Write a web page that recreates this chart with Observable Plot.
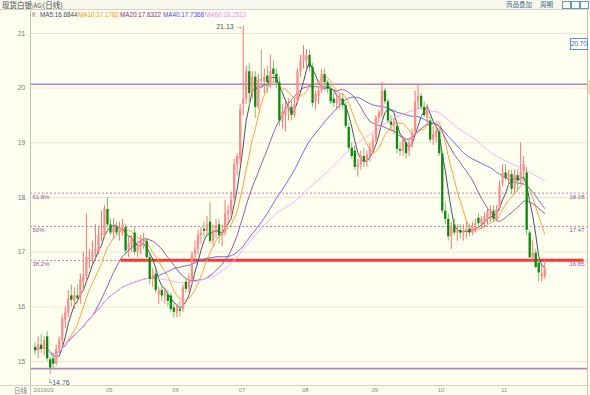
<!DOCTYPE html>
<html><head><meta charset="utf-8">
<script src="https://cdn.jsdelivr.net/npm/d3@7"></script>
<script src="https://cdn.jsdelivr.net/npm/@observablehq/plot@0.6"></script>
<style>
html,body{margin:0;padding:0;background:#fffff0;}
#wrap{position:relative;width:590px;height:395px;overflow:hidden;background:#fffff0;font-family:"Liberation Sans",Arial,sans-serif;}
#chart{position:absolute;left:0;top:0;}
#hdr{position:absolute;left:0;top:0;width:590px;height:9px;background:#f7f7ee;border-bottom:1px solid #d6d6c6;}
#title{position:absolute;left:2px;top:0px;font-family:"Noto Sans CJK SC",sans-serif;font-size:7.5px;line-height:9px;color:#4a4a4a;white-space:nowrap;}
.tool{position:absolute;top:0px;font-family:"Noto Sans CJK SC",sans-serif;font-size:6.5px;line-height:9px;color:#3d6f92;white-space:nowrap;}
.btn{position:absolute;top:1px;width:7px;height:6px;border:1px solid #6a98b8;background:#fbfbf5;}
.leg{position:absolute;top:10px;font-size:6.3px;line-height:9px;white-space:nowrap;}
#vleft{position:absolute;left:30px;top:10px;width:1px;height:385px;background:#c4c4b4;}
#vright{position:absolute;left:587px;top:10px;width:1px;height:385px;background:#c4c4b4;}
#tab{position:absolute;left:588px;top:80px;width:2px;height:14px;background:#efe2a8;}
#xbar{position:absolute;left:0;top:385px;width:590px;height:10px;border-top:1px solid #d2d2c2;}
#xname{position:absolute;left:14px;top:386px;font-family:"Noto Sans CJK SC",sans-serif;font-size:6.5px;line-height:9px;color:#777;}
#cursor{position:absolute;left:570px;top:38px;width:16px;height:10px;border:1px solid #5a8ef0;color:#3a6ad0;font-size:6.3px;line-height:10px;text-align:center;background:#fffff0;}
</style></head>
<body><div id="wrap"><div id="chart"></div></div>
<script>
const opens = [15.26,15.20,15.30,15.22,15.45,15.03,15.05,14.95,15.22,15.38,15.75,15.88,16.20,16.10,16.20,16.15,16.45,16.55,16.85,16.90,17.00,17.00,17.30,17.30,
17.78,17.50,17.35,17.45,17.35,17.40,17.45,17.05,17.12,17.35,17.00,17.10,17.18,17.20,16.90,16.50,16.60,16.22,16.30,16.20,16.22,16.20,
15.98,15.88,15.95,15.95,16.45,16.32,16.50,16.95,17.05,17.30,17.42,17.38,17.55,17.20,17.40,17.50,17.30,17.35,17.70,17.75,17.98,18.60,
18.70,19.70,19.80,20.30,19.90,20.20,19.65,20.15,20.10,20.22,20.10,20.35,20.25,20.10,19.38,19.50,19.60,19.65,19.50,19.75,20.30,
20.50,20.50,20.60,20.38,19.75,19.85,19.95,20.25,20.10,19.98,19.80,19.72,19.75,19.80,19.68,19.28,18.90,18.85,18.55,18.60,18.75,18.65,18.75,
18.90,19.05,19.45,19.50,19.95,19.75,19.38,19.32,19.30,18.88,18.85,19.00,18.85,19.00,19.20,19.75,19.85,19.65,19.45,19.40,19.05,19.10,
19.20,18.80,17.75,17.60,17.28,17.50,17.35,17.40,17.35,17.38,17.42,17.35,17.48,17.62,17.52,17.55,17.60,17.70,17.75,17.60,17.80,
18.25,18.45,18.35,18.42,18.15,18.40,18.30,18.45,18.45,17.35,16.88,16.98,16.80,16.55,16.55];
const highs = [15.35,15.45,15.50,15.45,15.55,15.08,15.12,15.30,15.45,15.85,16.00,16.30,16.40,16.35,16.40,16.60,17.00,17.70,17.05,17.20,17.50,17.45,17.75,17.85,
18.00,17.60,17.60,17.55,17.55,17.60,17.50,17.30,17.30,17.45,17.20,17.30,17.35,17.25,16.95,16.70,16.70,16.35,16.40,16.35,16.30,16.25,
16.05,16.05,16.10,16.40,16.50,16.60,17.00,17.20,17.40,17.45,17.55,17.65,17.90,17.50,17.60,17.60,17.50,17.95,17.85,18.10,18.70,18.80,
19.70,21.13,20.40,20.45,20.30,20.30,20.25,20.70,20.35,20.40,20.60,20.50,20.35,20.20,19.70,19.75,19.80,19.75,19.80,20.35,20.60,
20.78,20.70,20.70,20.45,19.95,20.00,20.35,20.35,20.15,20.05,19.90,19.90,19.90,19.90,19.75,19.35,19.00,18.95,18.70,18.85,18.90,18.85,19.00,
19.15,19.50,19.60,20.10,20.00,19.80,19.50,19.45,19.35,19.00,19.10,19.05,19.05,19.25,19.95,20.05,19.90,19.75,19.70,19.50,19.30,19.35,
19.30,18.85,17.90,17.70,17.55,17.60,17.50,17.50,17.50,17.55,17.50,17.55,17.60,17.70,17.65,17.72,17.80,17.85,17.85,17.85,18.30,
18.60,18.60,18.50,18.50,18.50,18.50,19.00,18.75,18.55,17.40,17.20,17.05,16.90,16.75,16.88];
const lows = [15.12,15.05,15.15,15.10,15.00,14.76,14.85,14.92,15.15,15.30,15.60,15.80,16.00,15.95,16.05,16.05,16.30,16.50,16.70,16.75,16.90,16.95,17.20,17.25,
17.45,17.30,17.25,17.30,17.20,17.30,16.95,16.90,17.00,16.95,16.90,16.95,17.05,16.85,16.40,16.35,16.25,16.05,16.10,16.05,16.00,15.90,
15.80,15.80,15.82,15.90,16.25,16.25,16.45,16.85,16.95,17.15,17.25,17.30,17.15,17.10,17.25,17.15,17.10,17.30,17.50,17.65,17.90,18.40,
18.60,19.50,19.70,19.60,19.80,19.45,19.60,20.00,19.90,19.90,20.00,20.10,20.00,19.30,19.25,19.20,19.40,19.40,19.45,19.70,20.20,
20.35,20.35,20.30,19.65,19.60,19.70,19.90,19.95,19.90,19.70,19.65,19.60,19.60,19.60,19.25,18.85,18.70,18.50,18.37,18.50,18.55,18.55,18.65,
18.80,19.00,19.35,19.45,19.70,19.35,19.20,19.15,18.80,18.75,18.75,18.70,18.75,18.90,19.15,19.60,19.60,19.45,19.35,19.00,18.95,19.00,
18.75,17.70,17.50,17.20,17.05,17.30,17.20,17.25,17.20,17.25,17.28,17.30,17.35,17.45,17.42,17.45,17.50,17.55,17.55,17.55,17.75,
18.20,18.30,18.20,18.05,18.05,18.10,18.25,18.30,17.30,16.85,16.82,16.70,16.45,16.45,16.50];
const closes = [15.20,15.30,15.22,15.38,15.05,14.88,14.95,15.22,15.40,15.78,15.90,16.15,16.12,16.20,16.15,16.50,16.55,16.90,16.90,17.00,17.05,17.30,17.35,17.80,
17.50,17.35,17.45,17.35,17.45,17.50,17.02,17.15,17.25,17.00,17.12,17.18,17.22,16.90,16.50,16.58,16.30,16.30,16.20,16.25,16.10,15.95,
15.90,15.98,15.92,16.35,16.32,16.50,16.95,17.05,17.30,17.35,17.38,17.50,17.20,17.40,17.48,17.30,17.35,17.70,17.75,17.95,18.60,18.75,
19.60,19.80,20.30,19.90,20.20,19.65,20.15,20.15,20.20,20.10,20.30,20.25,20.10,19.40,19.55,19.60,19.65,19.50,19.70,20.30,20.50,
20.60,20.58,20.38,19.72,19.88,19.95,20.25,20.10,19.98,19.75,19.72,19.80,19.82,19.68,19.30,18.90,18.75,18.55,18.60,18.75,18.65,18.78,18.90,
19.05,19.45,19.55,19.95,19.75,19.40,19.32,19.38,18.88,18.85,19.05,18.80,19.00,19.15,19.75,19.85,19.65,19.50,19.60,19.05,19.15,19.20,
18.80,17.75,17.60,17.28,17.45,17.35,17.40,17.35,17.38,17.42,17.35,17.48,17.52,17.52,17.60,17.65,17.72,17.75,17.60,17.78,18.20,
18.45,18.35,18.42,18.15,18.40,18.30,18.45,18.60,17.40,16.90,16.98,16.72,16.62,16.60,16.68];

const monthNames = ["201603","04","05","06","07","08","09","10","11"];
const monthDays = [3,21,22,22,21,23,22,21,15];
const hiddenMonths = ["04"];
const yTicks = [15,16,17,18,19,20,21];
const fibNames = ["61.8%","50%","38.2%"];
const fibValues = [18.08,17.47,16.85];
const rangeLines = [20.07,14.87];
const supportValue = 16.85;
const supportFrom = 28.5;
const cursorValue = "20.70";
const maPeriods = [5,10,20,40,60];
const maNames = ["MA5","MA10","MA20","MA40","MA60"];
const maValues = ["16.6844","17.1762","17.6322","17.7368","18.2513"];
const maLineColors = ["#46546a","#ffa040","#9a5aa8","#6a6af0","#ffa8ff"];
const maTextColors = ["#3a4a66","#ff8c1a","#8a2a8a","#4a4af0","#ff80ff"];

const X_MAX = 183.5;
const data = closes.map((c, i) => ({i, o: opens[i], h: highs[i], l: lows[i], c,
  dir: c > opens[i] ? "up" : c < opens[i] ? "down" : "flat"}));
const wickColor = d => d.dir === "up" ? "#ff7272" : d.dir === "down" ? "#78c078" : "#a0a0a0";
const bodyColor = d => d.dir === "up" ? "#ff8c8c" : "#0b8a0b";

let acc = 0;
const months = monthNames.map((name, k) => { const m = {name, i: acc}; acc += monthDays[k]; return m; })
  .filter(m => !hiddenMonths.includes(m.name));
const fib = fibNames.map((name, k) => ({name, v: fibValues[k]}));
const hiIdx = d3.maxIndex(highs), loIdx = d3.minIndex(lows);

const maMarks = maPeriods.map((k, j) => Plot.lineY(data, Plot.windowY({k, anchor: "end"},
  {x: "i", y: "c", stroke: maLineColors[j], strokeWidth: 1})));

const chart = Plot.plot({
  width: 590, height: 395,
  marginLeft: 30, marginRight: 2, marginTop: 11, marginBottom: 10,
  x: {domain: [-1.53, X_MAX], axis: null},
  y: {domain: [14.561, 21.402], axis: null},
  color: {type: "identity"},
  style: {background: "transparent", fontFamily: "Liberation Sans, Arial, sans-serif", fontSize: "6.5px", overflow: "visible"},
  marks: [
    Plot.ruleY(yTicks, {stroke: "#e8e8d0", strokeWidth: 1}),
    Plot.ruleY(rangeLines, {stroke: "#bd7dbd", strokeWidth: 1.6}),
    Plot.ruleY(fibValues, {stroke: "#c27ac2", strokeWidth: 1, strokeDasharray: "2,2"}),
    Plot.ruleY([supportValue], {x1: supportFrom, x2: X_MAX - 1.5, stroke: "#ff3434", strokeWidth: 3}),
    ...maMarks,
    Plot.ruleX(data, {x: "i", y1: "l", y2: "h", stroke: wickColor, strokeWidth: 1}),
    Plot.ruleX(data.filter(d => d.dir !== "flat"), {x: "i", y1: "o", y2: "c", stroke: bodyColor, strokeWidth: 2.3}),
    Plot.ruleY(data.filter(d => d.dir === "flat"), {y: "c", x1: d => d.i - 0.4, x2: d => d.i + 0.4, stroke: "#909090"}),
    Plot.text(yTicks, {y: d => d, text: d => String(d), frameAnchor: "left", textAnchor: "end", dx: -5, fill: "#7a7a7a", fontSize: 7}),
    Plot.text(months, {x: "i", text: "name", frameAnchor: "bottom", dy: 6, dx: -1.5, textAnchor: "start", fill: "#8a8a8a", fontSize: 6}),
    Plot.text(fib, {y: "v", text: "name", frameAnchor: "left", textAnchor: "start", dx: 2, dy: 4, fill: "#a050a0", fontSize: 6}),
    Plot.text(fib, {y: "v", text: d => d.v.toFixed(2), frameAnchor: "right", textAnchor: "end", dx: -4, dy: 4, fill: "#a050a0", fontSize: 6}),
    Plot.text([hiIdx], {x: d => d, y: d => highs[d], text: d => highs[d].toFixed(2) + " \u2192", textAnchor: "end", dx: -0.5, dy: 0.5, fill: "#3a5a7a", fontSize: 7}),
    Plot.text([loIdx], {x: d => d, y: d => lows[d], text: d => "\u2514" + lows[d].toFixed(2), textAnchor: "start", dx: -3, dy: 8, fill: "#3a5a7a", fontSize: 7})
  ]
});
const wrap = document.getElementById("wrap");
document.getElementById("chart").appendChild(chart);

function add(html) { wrap.insertAdjacentHTML("beforeend", html); }
add('<div id="vleft"></div><div id="vright"></div><div id="tab"></div><div id="xbar"></div><div id="xname">日线</div>');
add('<div id="hdr"></div><div id="title">现货白银<span style="font-size:5.5px">(AG)</span>(日线)</div>');
add('<div class="tool" style="left:506px">商品叠加</div><div class="tool" style="left:540px">周期</div>');
add('<div class="btn" style="left:562px"></div><div class="btn" style="left:571px"></div><div class="btn" style="left:580px"></div>');
add('<div class="leg" style="left:32px;color:#7a7a7a">K</div>');
const legLefts = [40, 78, 120, 163, 205];
maNames.forEach((n, j) => add('<div class="leg" style="left:' + legLefts[j] + 'px;color:' + maTextColors[j] + '">' + n + ':' + maValues[j] + '</div>'));
add('<div id="cursor">' + cursorValue + '</div>');
</script>
</body></html>
